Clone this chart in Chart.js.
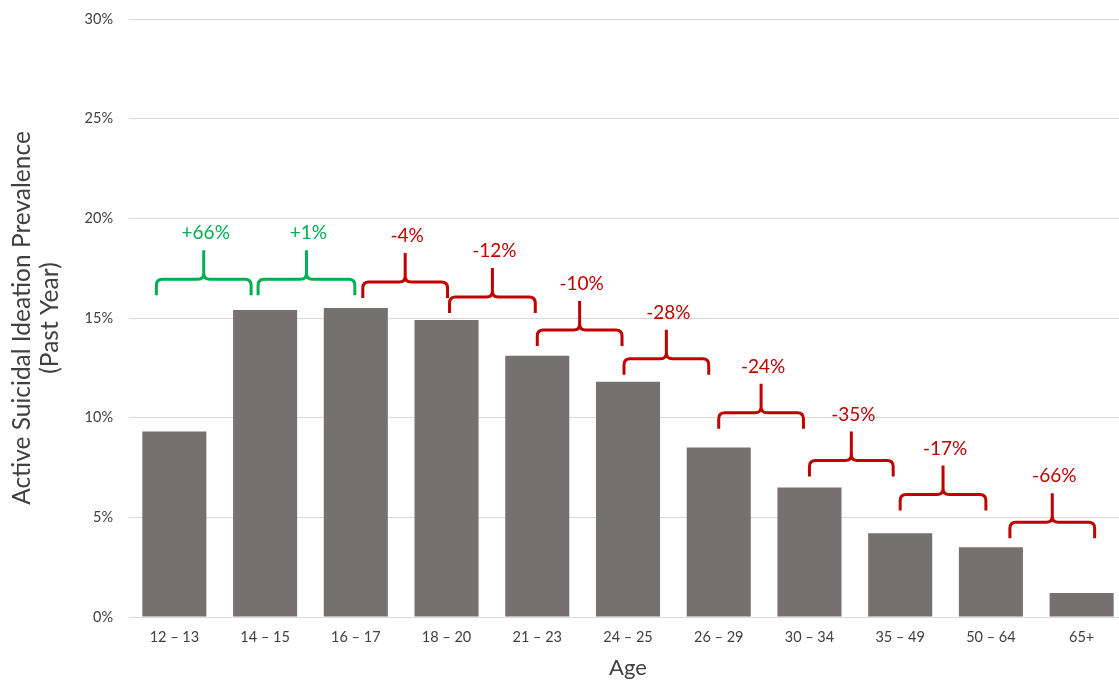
<!DOCTYPE html>
<html>
<head>
<meta charset="utf-8">
<script src="https://cdn.jsdelivr.net/npm/chart.js@4"></script>
<style>
    html, body { margin: 0; padding: 0; background: #fff; overflow: hidden; }
    #wrap { width: 1127px; height: 682px; }
</style>
</head>
<body>
<div id="wrap"><canvas id="myChart"></canvas></div>
<script>
// data
const ageGroups = ['12 – 13', '14 – 15', '16 – 17', '18 – 20', '21 – 23', '24 – 25', '26 – 29', '30 – 34', '35 – 49', '50 – 64', '65+']
const prevalence = [9.3, 15.4, 15.5, 14.9, 13.1, 11.8, 8.5, 6.5, 4.2, 3.5, 1.2]
const yTicks = [0, 5, 10, 15, 20, 25, 30]

// change between neighbouring age groups, and the level (in %) where each bracket sits
const changeLabels = ['+66%', '+1%', '-4%', '-12%', '-10%', '-28%', '-24%', '-35%', '-17%', '-66%']
const bracketLevels = [16.95, 16.95, 16.8, 16.05, 14.4, 12.95, 10.25, 7.85, 6.15, 4.75]

// small hand nudges of the bracket ends (px), like in the original
const startNudge = [-18, -7, 7, 3, 0, -4, 0, 0, 0, 19]
const endNudge = [-14, -1, 1, -2, -6, -10, -6, -7, -5, 13]

const green = '#00b050'
const red = '#c00000'
const fontFam = 'Lato, "Open Sans", sans-serif'

const bracketPlugin = {
    id: 'brackets',
    afterDatasetsDraw(chart) {
        const ctx = chart.ctx
        const x = chart.scales.x
        const y = chart.scales.y
        const r = 6
        ctx.save()
        ctx.lineWidth = 3
        ctx.lineJoin = 'round'
        ctx.lineCap = 'butt'
        for (let i = 0; i < changeLabels.length; i++) {
            const color = changeLabels[i].startsWith('+') ? green : red
            const x1 = x.getPixelForValue(i) + startNudge[i]
            const x2 = x.getPixelForValue(i + 1) + endNudge[i]
            const xm = (x1 + x2) / 2
            const yh = y.getPixelForValue(bracketLevels[i])
            const yb = yh + 16
            const yp = yh - 29
            ctx.strokeStyle = color
            ctx.beginPath()
            ctx.moveTo(x1, yb)
            ctx.lineTo(x1, yh + r)
            ctx.quadraticCurveTo(x1, yh, x1 + r, yh)
            ctx.lineTo(xm - r, yh)
            ctx.quadraticCurveTo(xm, yh, xm, yh - r)
            ctx.lineTo(xm, yp)
            ctx.moveTo(x2, yb)
            ctx.lineTo(x2, yh + r)
            ctx.quadraticCurveTo(x2, yh, x2 - r, yh)
            ctx.lineTo(xm + r, yh)
            ctx.quadraticCurveTo(xm, yh, xm, yh - r)
            ctx.stroke()

            ctx.fillStyle = color
            ctx.font = '19px ' + fontFam
            ctx.textAlign = 'center'
            ctx.textBaseline = 'middle'
            ctx.fillText(changeLabels[i], xm + 2, yp - 17)
        }
        ctx.restore()
    }
}

var ctx = document.getElementById('myChart').getContext('2d')
var myChart = new Chart(ctx, {
    type: 'bar',
    data: {
        labels: ageGroups,
        datasets: [{
            data: prevalence,
            backgroundColor: '#767171',
            borderWidth: 0,
            barPercentage: 0.706,
            categoryPercentage: 1
        }]
    },
    options: {
        responsive: true,
        maintainAspectRatio: false,
        animation: false,
        layout: {
            padding: { top: 19, right: 0, bottom: 0, left: 0 }
        },
        plugins: {
            legend: { display: false },
            tooltip: { enabled: false }
        },
        scales: {
            x: {
                grid: { display: false, drawTicks: false },
                border: { color: '#d9d9d9', width: 1 },
                ticks: {
                    color: '#404040',
                    padding: 12,
                    maxRotation: 0,
                    font: { family: fontFam, size: 14.5 }
                },
                title: {
                    display: true,
                    text: 'Age',
                    color: '#404040',
                    font: { family: fontFam, size: 22, lineHeight: 1.1 },
                    padding: { top: 4, bottom: 2 }
                },
                afterFit(scale) {
                    scale.height = 65
                }
            },
            y: {
                min: 0,
                max: 30,
                afterBuildTicks(scale) {
                    scale.ticks = yTicks.map(v => ({ value: v }))
                },
                grid: { color: '#d9d9d9', drawTicks: false, lineWidth: 1 },
                border: { display: false },
                ticks: {
                    color: '#404040',
                    padding: 16,
                    font: { family: fontFam, size: 14.5 },
                    callback: v => v + '%'
                },
                title: {
                    display: true,
                    text: ['Active Suicidal Ideation Prevalence', '(Past Year)'],
                    color: '#404040',
                    font: { family: fontFam, size: 24.5, lineHeight: 1.15 },
                    padding: { top: 8, bottom: 0 }
                },
                afterFit(scale) {
                    scale.width = 129
                    scale.paddingTop = 0
                    scale.paddingBottom = 0
                }
            }
        }
    },
    plugins: [bracketPlugin]
})
</script>
</body>
</html>
